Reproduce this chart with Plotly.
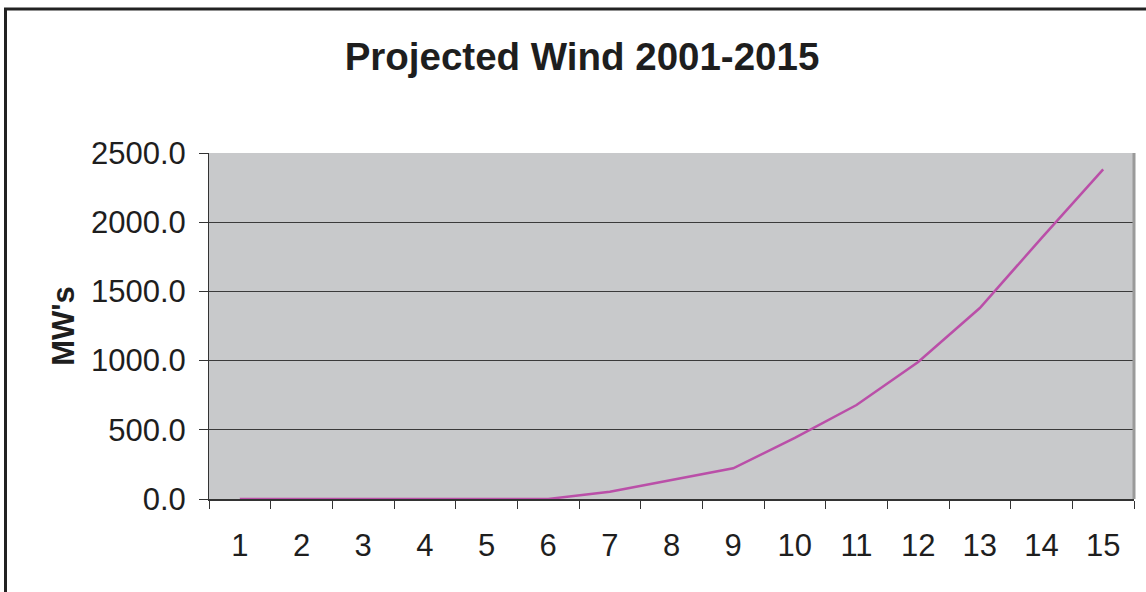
import plotly.graph_objects as go

years = [str(i) for i in range(1, 16)]
mw = [0, 0, 0, 0, 0, 0, 53, 138, 222, 441, 679, 990, 1380, 1885, 2382]
y_ticks = [0, 500, 1000, 1500, 2000, 2500]

FONT = "Liberation Sans, Arial, sans-serif"

fig = go.Figure()
fig.add_trace(go.Scatter(
    x=years, y=mw, mode="lines",
    line=dict(color="#BA4FA8", width=2.5),
    showlegend=False,
))

fig.update_layout(
    width=1146, height=592,
    margin=dict(l=209, r=12, t=153, b=93),
    paper_bgcolor="white",
    plot_bgcolor="#C8C9CB",
    title=dict(text="<b>Projected Wind 2001-2015</b>", x=582 / 1146, xanchor="center",
               y=1 - 57 / 592, yanchor="middle",
               font=dict(family=FONT, size=38.5, color="#1e1e1e")),
    font=dict(family=FONT, color="#1e1e1e"),
    shapes=[dict(type="rect", xref="paper", yref="paper",
                 x0=(5.5 - 209) / 925, x1=1.2,
                 y0=-0.6, y1=(499 - 9) / 346,
                 line=dict(color="#222222", width=3), layer="below")],
)

fig.update_xaxes(
    type="category", tickson="boundaries", range=[-0.5, 14.5],
    ticks="outside", ticklen=8, tickcolor="#333333", tickwidth=1,
    showline=True, linecolor="#333333", linewidth=2,
    showgrid=False, ticklabelstandoff=18,
    tickfont=dict(family=FONT, size=31, color="#1e1e1e"),
)
fig.update_yaxes(
    range=[0, 2500], tickvals=y_ticks, tickformat=".1f",
    ticks="outside", ticklen=9, tickcolor="#333333", tickwidth=1,
    showline=True, linecolor="#333333", linewidth=1,
    showgrid=True, gridcolor="#3a3a3a", gridwidth=1,
    zeroline=False, ticklabelstandoff=7,
    tickfont=dict(family=FONT, size=31, color="#1e1e1e"),
    title=dict(text="<b>MW's</b>", font=dict(family=FONT, size=31, color="#1e1e1e"),
               standoff=7),
)
# right border of plot area
fig.add_shape(type="line", xref="paper", yref="paper", x0=1, x1=1, y0=0, y1=1,
              line=dict(color="#9a9a9a", width=3))

fig.write_html("out.html", config={"displayModeBar": False},
               post_script="document.body.style.margin='0';")
